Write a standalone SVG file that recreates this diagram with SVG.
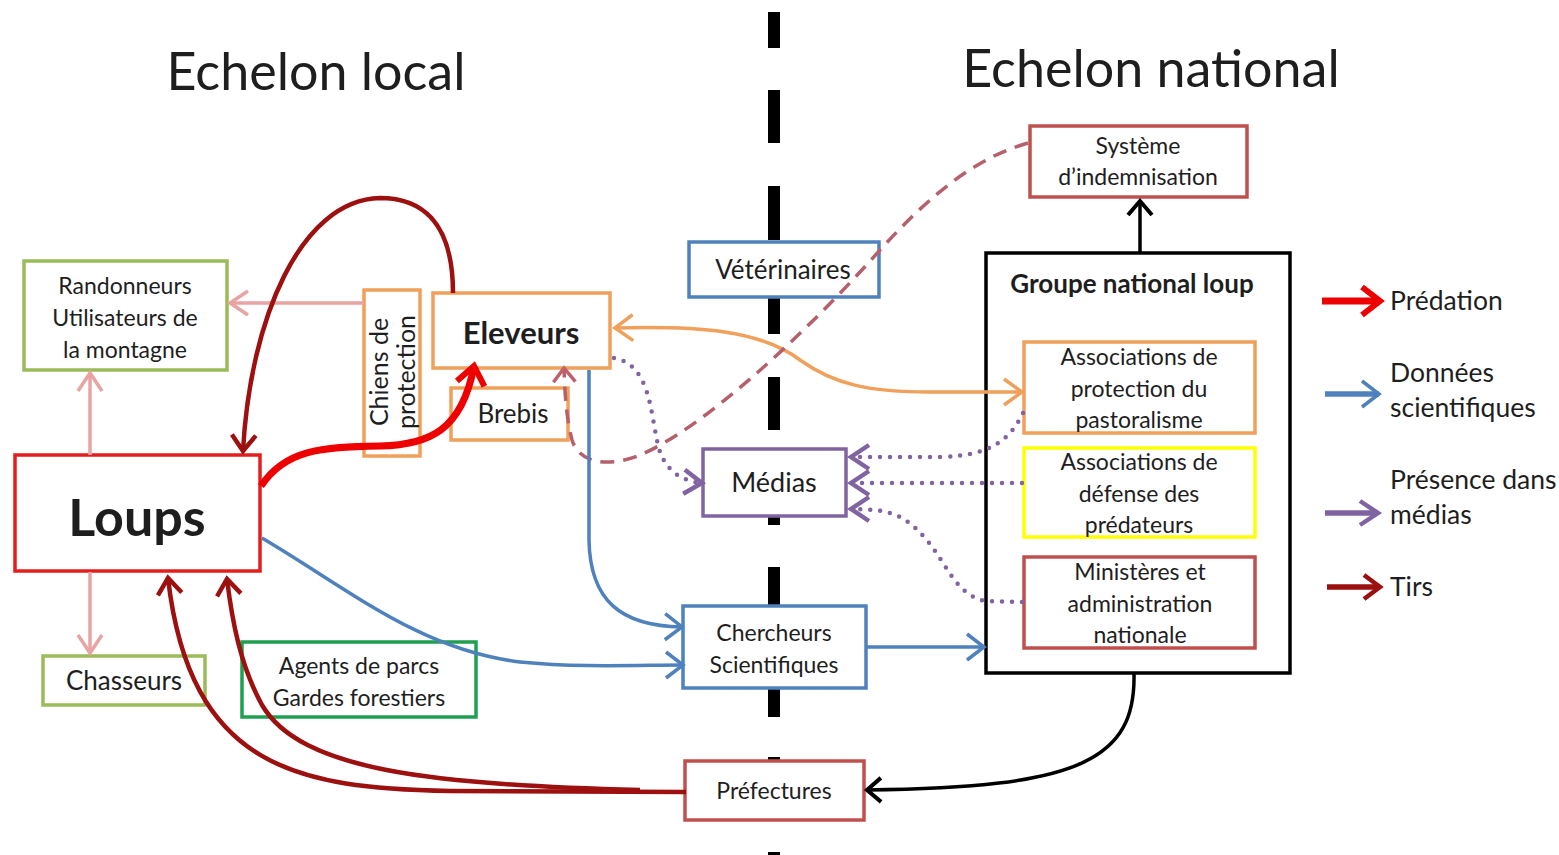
<svg xmlns="http://www.w3.org/2000/svg" width="1559" height="855" viewBox="0 0 1559 855">
<style>
text{font-family:Lato,"Liberation Sans",sans-serif;fill:#1e1e1e;text-anchor:middle}
.t{font-size:52px}
.l{font-size:23px}
.m{font-size:26px}
.lg{font-size:26.5px;text-anchor:start}
.b{font-weight:bold}
rect{fill:#fff;stroke-width:3.5}
.d{fill:#000;stroke:none}
.c path,.c line{fill:none}
.pink{stroke:#e8a3a3;stroke-width:3.5}
.blue{stroke:#4f81bd;stroke-width:3.5}
.org{stroke:#f0a05a;stroke-width:3.5}
.pur{stroke:#8064a2;stroke-width:4.5;stroke-dasharray:0 10;stroke-linecap:round}
.rose{stroke:#b5606c;stroke-width:3.5;stroke-dasharray:14 9}
.blk{stroke:#000;stroke-width:3.5}
.tirs{stroke:#9c1010;stroke-width:4.5}
.pred{stroke:#ee0000;stroke-width:7}
</style>
<defs>
<marker id="mPink" markerUnits="userSpaceOnUse" viewBox="0 0 22 28" markerWidth="22" markerHeight="28" refX="20" refY="14" orient="auto" overflow="visible"><path d="M2,2 L20,14 L2,26" fill="none" stroke="#e8a3a3" stroke-width="3.5"/></marker>
<marker id="mBlue" markerUnits="userSpaceOnUse" viewBox="0 0 22 30" markerWidth="22" markerHeight="30" refX="20" refY="15" orient="auto" overflow="visible"><path d="M3,2 L20,15 L3,28" fill="none" stroke="#4f81bd" stroke-width="3.5"/></marker>
<marker id="mOrg" markerUnits="userSpaceOnUse" viewBox="0 0 22 30" markerWidth="22" markerHeight="30" refX="20" refY="15" orient="auto-start-reverse" overflow="visible"><path d="M2,2 L20,15 L2,28" fill="none" stroke="#f0a05a" stroke-width="3.5"/></marker>
<marker id="mPur" markerUnits="userSpaceOnUse" viewBox="0 0 22 28" markerWidth="22" markerHeight="28" refX="20" refY="14" orient="auto" overflow="visible"><path d="M2,2 L20,14 L2,26" fill="none" stroke="#8064a2" stroke-width="4.5"/></marker>
<marker id="mRose" markerUnits="userSpaceOnUse" viewBox="0 0 18 26" markerWidth="18" markerHeight="26" refX="16" refY="13" orient="auto" overflow="visible"><path d="M2,2 L16,13 L2,24" fill="none" stroke="#c0606c" stroke-width="3.5"/></marker>
<marker id="mBlk" markerUnits="userSpaceOnUse" viewBox="0 0 18 28" markerWidth="18" markerHeight="28" refX="16" refY="14" orient="auto" overflow="visible"><path d="M2,2 L16,14 L2,26" fill="none" stroke="#000" stroke-width="4"/></marker>
<marker id="mTirs" markerUnits="userSpaceOnUse" viewBox="0 0 20 28" markerWidth="20" markerHeight="28" refX="18" refY="14" orient="auto" overflow="visible"><path d="M2,2 L18,14 L2,26" fill="none" stroke="#9c1010" stroke-width="4.5"/></marker>
<marker id="mPred" markerUnits="userSpaceOnUse" viewBox="0 0 24 34" markerWidth="24" markerHeight="34" refX="21" refY="17" orient="auto" overflow="visible"><path d="M3,3 L21,17 L3,31" fill="none" stroke="#ee0000" stroke-width="6"/></marker>
</defs>

<g id="divider">
<rect class="d" x="768" y="12" width="12" height="36"/>
<rect class="d" x="768" y="90" width="12" height="53"/>
<rect class="d" x="768" y="186" width="12" height="54"/>
<rect class="d" x="768" y="281" width="12" height="53"/>
<rect class="d" x="768" y="377" width="12" height="53"/>
<rect class="d" x="768" y="472" width="12" height="53"/>
<rect class="d" x="768" y="567" width="12" height="53"/>
<rect class="d" x="768" y="663" width="12" height="54"/>
<rect class="d" x="768" y="757" width="12" height="53"/>
<rect class="d" x="768" y="852" width="12" height="5"/>
</g>

<g id="titles">
<text class="t" x="316" y="90">Echelon local</text>
<text class="t" x="1151" y="87">Echelon national</text>
</g>

<g id="randonneurs"><rect x="24" y="261" width="203" height="109" stroke="#9bbb59"/>
<text class="l" x="125" y="294">Randonneurs</text><text class="l" x="125" y="326">Utilisateurs de</text><text class="l" x="125" y="358">la montagne</text></g>
<g id="chiens"><rect x="364" y="290" width="56" height="166" stroke="#f0a05a"/>
<g transform="translate(392 372) rotate(-90)"><text class="l" x="0" y="-4" style="font-size:25px">Chiens de</text><text class="l" x="0" y="23" style="font-size:25px">protection</text></g></g>
<g id="eleveurs"><rect x="433" y="293" width="177" height="75" stroke="#f0a05a"/>
<text class="b" x="521" y="344" style="font-size:31px">Eleveurs</text></g>
<g id="brebis"><rect x="451" y="388" width="117" height="52" stroke="#f0a05a"/>
<text class="m" x="513" y="423">Brebis</text></g>
<g id="loups"><rect x="15" y="455" width="245" height="116" stroke="#e41e1e" stroke-width="4"/>
<text class="b" x="137" y="536" style="font-size:52px">Loups</text></g>
<g id="chasseurs"><rect x="43" y="656" width="162" height="49" stroke="#9bbb59"/>
<text class="m" x="124" y="690">Chasseurs</text></g>
<g id="agents"><rect x="242" y="642" width="234" height="75" stroke="#1ea050"/>
<text class="l" x="359" y="674">Agents de parcs</text><text class="l" x="359" y="706">Gardes forestiers</text></g>
<g id="veterinaires"><rect x="689" y="242" width="190" height="55" stroke="#4f81bd"/>
<text class="m" x="783" y="279">Vétérinaires</text></g>
<g id="medias"><rect x="703" y="449" width="143" height="67" stroke="#8064a2"/>
<text class="m" x="774" y="492" style="font-size:27px">Médias</text></g>
<g id="chercheurs"><rect x="683" y="606" width="183" height="82" stroke="#4f81bd"/>
<text class="l" x="774" y="641">Chercheurs</text><text class="l" x="774" y="673">Scientifiques</text></g>
<g id="prefectures"><rect x="685" y="761" width="179" height="59" stroke="#c0504d"/>
<text class="l" x="774" y="799">Préfectures</text></g>
<g id="indemnisation"><rect x="1030" y="126" width="217" height="71" stroke="#c0504d"/>
<text class="l" x="1138" y="154">Système</text><text class="l" x="1138" y="185">d’indemnisation</text></g>
<g id="groupe"><rect x="986" y="253" width="304" height="420" stroke="#000" stroke-width="4"/>
<text class="b" x="1132" y="293" style="font-size:26px">Groupe national loup</text></g>
<g id="assoc-pastoralisme"><rect x="1024" y="342" width="231" height="91" stroke="#f0a05a"/>
<text class="l" x="1139" y="365">Associations de</text><text class="l" x="1139" y="397">protection du</text><text class="l" x="1139" y="428">pastoralisme</text></g>
<g id="assoc-predateurs"><rect x="1024" y="448" width="231" height="89" stroke="#ffff00"/>
<text class="l" x="1139" y="470">Associations de</text><text class="l" x="1139" y="502">défense des</text><text class="l" x="1139" y="533">prédateurs</text></g>
<g id="ministeres"><rect x="1024" y="557" width="231" height="91" stroke="#c0504d"/>
<text class="l" x="1140" y="580">Ministères et</text><text class="l" x="1140" y="612">administration</text><text class="l" x="1140" y="643">nationale</text></g>

<g id="connectors" class="c">
<line class="pink" x1="364" y1="303" x2="230" y2="303" marker-end="url(#mPink)"/>
<line class="pink" x1="90" y1="455" x2="90" y2="373" marker-end="url(#mPink)"/>
<line class="pink" x1="90" y1="572" x2="90" y2="653" marker-end="url(#mPink)"/>
<path class="tirs" d="M453 293 C453 220 420 198 380 198 C300 200 250 320 243 451" marker-end="url(#mTirs)"/>
<path class="tirs" d="M686 792 L450 791 C300 788 190 770 168 578" marker-end="url(#mTirs)"/>
<path class="tirs" d="M640 790 C430 785 300 770 262 705 C240 665 232 620 227 579" marker-end="url(#mTirs)"/>
<path class="pred" d="M261 486 C285 450 320 447 380 446 C430 445 462 430 474 366" marker-end="url(#mPred)"/>
<path class="org" d="M615 328 C700 326 760 330 800 360 C835 385 870 392 930 392 L1022 392" marker-start="url(#mOrg)" marker-end="url(#mOrg)"/>
<path class="rose" d="M1028 143 C975 158 930 195 880 250 C800 340 700 430 640 455 C610 467 580 465 572 440 C567 420 565 400 564 368" marker-end="url(#mRose)"/>
<path class="pur" d="M614 358 C650 365 650 410 658 445 C665 475 688 482 702 483" marker-end="url(#mPur)"/>
<path class="pur" d="M1023 413 C1010 440 990 456 940 457 L851 457" marker-end="url(#mPur)"/>
<path class="pur" d="M1022 483 L851 483" marker-end="url(#mPur)"/>
<path class="pur" d="M1022 602 L985 601 C955 595 945 560 925 538 C905 515 890 509 851 509" marker-end="url(#mPur)"/>
<path class="blue" d="M589 370 L589 540 C590 600 620 626 682 627" marker-end="url(#mBlue)"/>
<path class="blue" d="M262 538 C350 590 420 650 520 662 C580 668 640 665 683 665" marker-end="url(#mBlue)"/>
<line class="blue" x1="866" y1="647" x2="984" y2="647" marker-end="url(#mBlue)"/>
<line class="blk" x1="1140" y1="253" x2="1140" y2="201" marker-end="url(#mBlk)"/>
<path class="blk" d="M1134 673 C1136 760 1080 788 867 790" marker-end="url(#mBlk)"/>
</g>

<g id="legend" class="c">
<line class="pred" x1="1322" y1="301" x2="1380" y2="301" marker-end="url(#mPred)"/>
<line x1="1325" y1="394" x2="1379" y2="394" stroke="#4f81bd" stroke-width="5.5" marker-end="url(#mBlue)"/>
<line x1="1325" y1="513" x2="1378" y2="513" stroke="#8064a2" stroke-width="5.5" marker-end="url(#mPur)"/>
<line x1="1327" y1="587" x2="1380" y2="587" stroke="#9c1010" stroke-width="5.5" marker-end="url(#mTirs)"/>
<text class="lg" x="1390" y="310">Prédation</text>
<text class="lg" x="1390" y="382">Données</text>
<text class="lg" x="1390" y="417">scientifiques</text>
<text class="lg" x="1390" y="489">Présence dans</text>
<text class="lg" x="1390" y="524">médias</text>
<text class="lg" x="1390" y="596">Tirs</text>
</g>
</svg>
